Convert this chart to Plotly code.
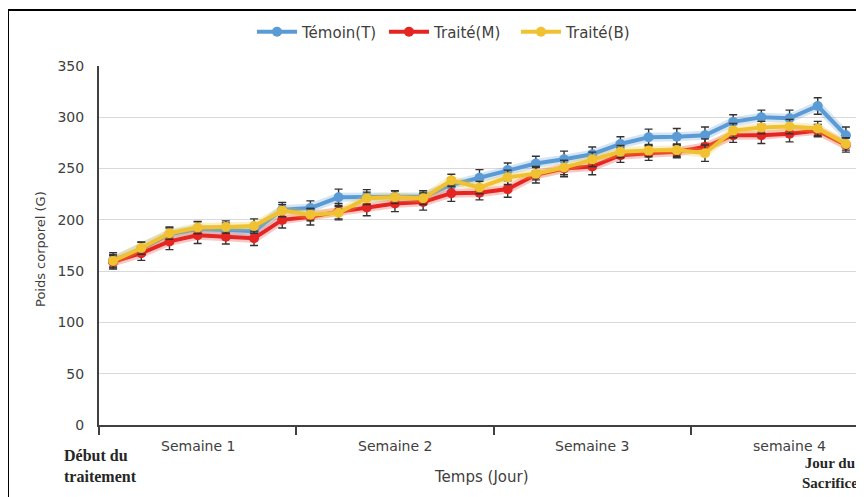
import plotly.graph_objects as go

# ---- data ----
days = list(range(27))
temoin = [160, 172, 186, 191, 190, 189, 210, 211.5, 222, 222.5, 222.5, 222.5, 234, 241, 248.5, 255,
          259, 264, 274, 280.5, 281, 282.5, 295.5, 300, 299, 311, 282.5]
traite_m = [159, 167.5, 179, 185, 183.5, 182, 200, 203, 208, 212, 216, 217.5, 226, 226.5, 230, 244,
            250, 252, 263, 265, 266.5, 271, 282.5, 282.5, 284, 287, 273]
traite_b = [160, 172.5, 187, 192.5, 193, 194, 209, 205, 207, 221, 222, 221, 238.5, 231.5, 241.5, 245,
            251, 259, 266.5, 267.5, 268, 265, 287, 290, 291, 289, 274]
err_t = [6, 6, 6, 7, 7, 7, 7, 7, 8, 7, 6, 6, 7, 8, 7, 7, 8, 7, 7, 8, 8, 8, 7, 7, 8, 8, 8]
err_m = [6, 7, 8, 8, 7, 7, 8, 8, 8, 8, 8, 8, 8, 7, 8, 8, 8, 8, 7, 7, 6, 8, 7, 8, 8, 6, 7]
err_b = [8, 6, 6, 6, 6, 7, 6, 6, 6, 6, 6, 6, 6, 6, 7, 6, 7, 7, 6, 6, 6, 8, 7, 6, 7, 7, 6]
series_names = ["Témoin(T)", "Traité(M)", "Traité(B)"]
series_colors = ["#5B9BD5", "#E52521", "#F0C232"]
week_labels = ["Semaine 1", "Semaine 2", "Semaine 3", "semaine 4"]
week_centers = [3, 10, 17, 24]
week_bounds = [-0.5, 6.5, 13.5, 20.5]
yticks = [0, 50, 100, 150, 200, 250, 300, 350]

# page body adds an 8px offset; work in window pixels and compensate
OFF = 8
W, H = 864 - OFF, 497 - OFF
L, R, T, B = 99 - OFF, 4, 66 - OFF, 72
pw, ph = W - L - R, H - T - B


def px(x):
    return (x - OFF - L) / pw


def py(y):
    return (H - B - (y - OFF)) / ph


fig = go.Figure()
for name, vals, err, col in zip(series_names, [temoin, traite_m, traite_b], [err_t, err_m, err_b], series_colors):
    fig.add_trace(go.Scatter(x=days, y=vals, mode="lines", showlegend=False, hoverinfo="skip",
                             line=dict(color=col, width=9), opacity=0.25))
    fig.add_trace(go.Scatter(
        x=days, y=vals, name=name, mode="lines+markers",
        line=dict(color=col, width=4),
        marker=dict(color=col, size=10),
        error_y=dict(type="data", array=err, visible=True, color="#333333", thickness=1.4, width=4),
    ))

font_sans = "DejaVu Sans"
font_serif = "Liberation Serif"

annotations = []
for lab, c in zip(week_labels, week_centers):
    annotations.append(dict(x=c, xref="x", y=py(446), yref="paper", text=lab, showarrow=False,
                            xanchor="center", yanchor="middle",
                            font=dict(family=font_sans, size=14, color="#404040")))
annotations += [
    dict(x=px(62), y=py(466), xref="paper", yref="paper", text="<b>Début du<br>traitement</b>",
         showarrow=False, xanchor="left", yanchor="middle", align="left",
         font=dict(family=font_serif, size=16, color="#262626")),
    dict(x=px(830), y=py(473), xref="paper", yref="paper", text="<b>Jour du<br>Sacrifice</b>",
         showarrow=False, xanchor="center", yanchor="middle", align="center",
         font=dict(family=font_serif, size=15, color="#262626")),
    dict(x=px(481), y=py(477), xref="paper", yref="paper", text="Temps (Jour)",
         showarrow=False, xanchor="center", yanchor="middle",
         font=dict(family=font_sans, size=15, color="#404040")),
    dict(x=px(40), y=py(249), xref="paper", yref="paper", text="Poids corporel (G)", textangle=-90,
         showarrow=False, xanchor="center", yanchor="middle",
         font=dict(family=font_sans, size=13, color="#404040")),
]

fig.update_layout(
    width=W, height=H,
    margin=dict(l=L, r=R, t=T, b=B),
    paper_bgcolor="white", plot_bgcolor="white",
    showlegend=True,
    legend=dict(orientation="h", x=px(252), xanchor="left", y=py(32), yanchor="middle",
                font=dict(family=font_sans, size=15, color="#404040"), itemwidth=40,
                entrywidth=77, entrywidthmode="pixels",
                bgcolor="rgba(0,0,0,0)", traceorder="normal"),
    xaxis=dict(range=[-0.5, 26.5], tickmode="array", tickvals=week_bounds, ticktext=["", "", "", ""],
               ticks="outside", ticklen=8, tickcolor="#404040", tickwidth=1.5,
               showgrid=False, zeroline=False, showline=True, linecolor="#404040", linewidth=2,
               fixedrange=True),
    yaxis=dict(range=[0, 350], tickmode="array", tickvals=yticks,
               showgrid=True, gridcolor="#d9d9d9", gridwidth=1,
               zeroline=False, showline=True, linecolor="#404040", linewidth=2, ticks="",
               tickfont=dict(family=font_sans, size=14, color="#404040"),
               ticklabelstandoff=10),
    annotations=annotations,
    shapes=[dict(type="rect", xref="paper", yref="paper", x0=px(8), x1=px(900), y0=py(560), y1=py(10),
                 line=dict(color="black", width=2), fillcolor="rgba(0,0,0,0)", layer="above")],
)

fig.write_html("out.html")
